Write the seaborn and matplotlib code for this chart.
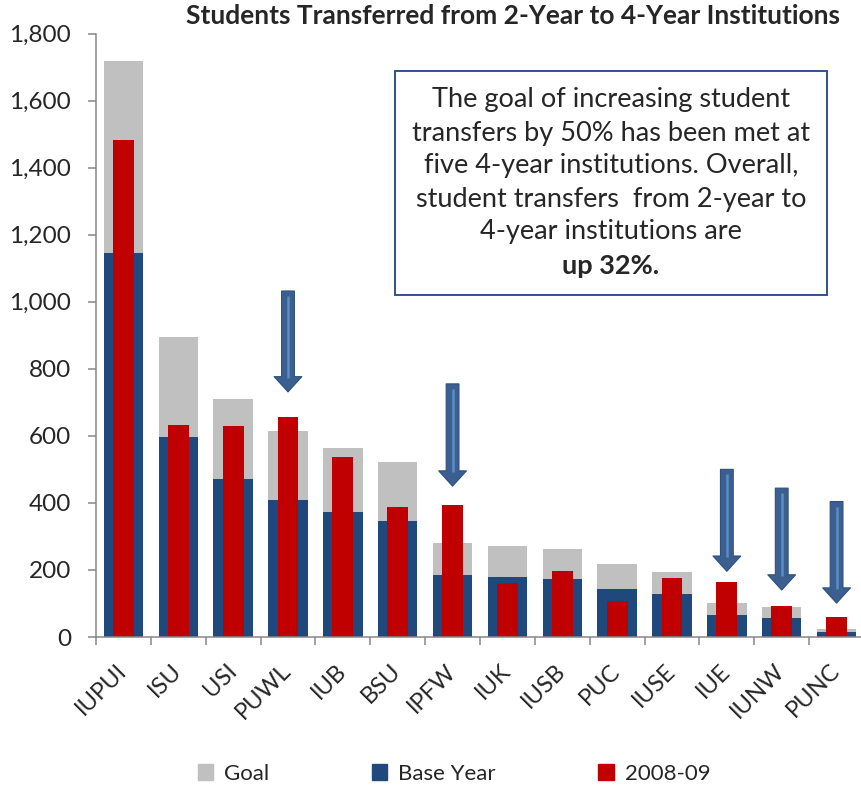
import matplotlib.pyplot as plt
import seaborn as sns
from matplotlib.patches import Patch, Rectangle

institutions = ["IUPUI", "ISU", "USI", "PUWL", "IUB", "BSU", "IPFW", "IUK",
                "IUSB", "PUC", "IUSE", "IUE", "IUNW", "PUNC"]
goal = [1719, 894, 711, 614, 564, 521, 281, 271, 262, 218, 194, 100, 88, 25]
base_year = [1145, 596, 472, 408, 373, 347, 185, 179, 173, 143, 127, 65, 56, 14]
year_0809 = [1482, 633, 629, 656, 536, 387, 394, 161, 197, 107, 176, 163, 93, 60]

# institutions where the goal was met, with arrow start / tip values
arrow_at = ["PUWL", "IPFW", "IUE", "IUNW", "PUNC"]
arrow_top = [1032, 755, 500, 444, 404]
arrow_tip = [731, 450, 196, 140, 101]

note_lines = ["The goal of increasing student",
              "transfers by 50% has been met at",
              "five 4-year institutions. Overall,",
              "student transfers  from 2-year to",
              "4-year institutions are"]
note_bold = "up 32%."

GRAY = "#C0C0C0"
NAVY = "#1F497D"
RED = "#C00000"
ARROW = "#3B5F8F"
AXIS = "#878787"

sns.set_theme(style="white")
plt.rcParams["font.family"] = ["Lato", "DejaVu Sans"]

fig = plt.figure(figsize=(8.61, 7.91), dpi=100)
ax = fig.add_axes([96 / 861, 1 - 637 / 791, 768 / 861, 603.5 / 791])

bar_kw = dict(saturation=1, linewidth=0, edgecolor="none", ax=ax)
sns.barplot(x=institutions, y=goal, color=GRAY, width=0.72, **bar_kw)
sns.barplot(x=institutions, y=base_year, color=NAVY, width=0.72, **bar_kw)
sns.barplot(x=institutions, y=year_0809, color=RED, width=0.38, **bar_kw)

ax.set_xlim(-0.5, len(institutions) - 0.5)
ax.set_ylim(0, 1800)
ax.set_yticks(range(0, 1801, 200))
ax.set_yticklabels([f"{v:,}" for v in range(0, 1801, 200)], fontsize=17.5)
ax.set_xlabel("")
ax.set_ylabel("")

ax.set_xticks(range(len(institutions)))
ax.set_xticklabels(institutions, rotation=45, ha="right", va="center",
                   rotation_mode="anchor", fontsize=17)
ax.set_xticks([i - 0.5 for i in range(len(institutions) + 1)], minor=True)
ax.tick_params(axis="x", which="major", length=0, pad=22)
ax.tick_params(axis="x", which="minor", length=6, width=1.1, color=AXIS,
               direction="out", bottom=True)
ax.tick_params(axis="y", length=6, width=1.1, color=AXIS, direction="out",
               left=True, pad=12)

for side in ["top", "right"]:
    ax.spines[side].set_visible(False)
for side in ["left", "bottom"]:
    ax.spines[side].set_color(AXIS)
    ax.spines[side].set_linewidth(1.1)

# arrows marking where the goal was met
head_len = 42
for name, top, tip in zip(arrow_at, arrow_top, arrow_tip):
    i = institutions.index(name)
    ax.annotate("", xy=(i, tip), xytext=(i, top),
                arrowprops=dict(arrowstyle="simple,head_length=0.55,head_width=1.0,tail_width=0.46",
                                mutation_scale=20, fc=ARROW, ec="#2E5080",
                                lw=0.8, shrinkA=0, shrinkB=0))
    ax.plot([i, i], [top - 15, tip + head_len], color="#5A8CC8", lw=1.8,
            solid_capstyle="butt", zorder=5)

fig.text(513 / 861, 1 - 16 / 791, "Students Transferred from 2-Year to 4-Year Institutions",
         ha="center", va="center", fontsize=19, fontweight="bold")

fig.patches.append(Rectangle((395 / 861, 1 - 295 / 791), 432 / 861, 224 / 791,
                             transform=fig.transFigure, fill=True, fc="white",
                             ec="#2F528F", lw=1.4, zorder=3))
line_y = [100, 133, 166, 199, 232]
for txt, y in zip(note_lines, line_y):
    fig.text(611 / 861, 1 - y / 791, txt, ha="center", va="center", fontsize=19.5, zorder=4)
fig.text(611 / 861, 1 - 266 / 791, note_bold, ha="center", va="center",
         fontsize=19.5, fontweight="bold", zorder=4)

handles = [Patch(color=GRAY), Patch(color=NAVY), Patch(color=RED)]
fig.legend(handles, ["Goal", "Base Year", "2008-09"], loc="center",
           bbox_to_anchor=(454 / 861, 1 - 774 / 791), ncol=3, frameon=False,
           fontsize=16, handlelength=0.7, handleheight=0.7, columnspacing=4.6,
           handletextpad=0.5)

fig.savefig("out.png", dpi=100)
